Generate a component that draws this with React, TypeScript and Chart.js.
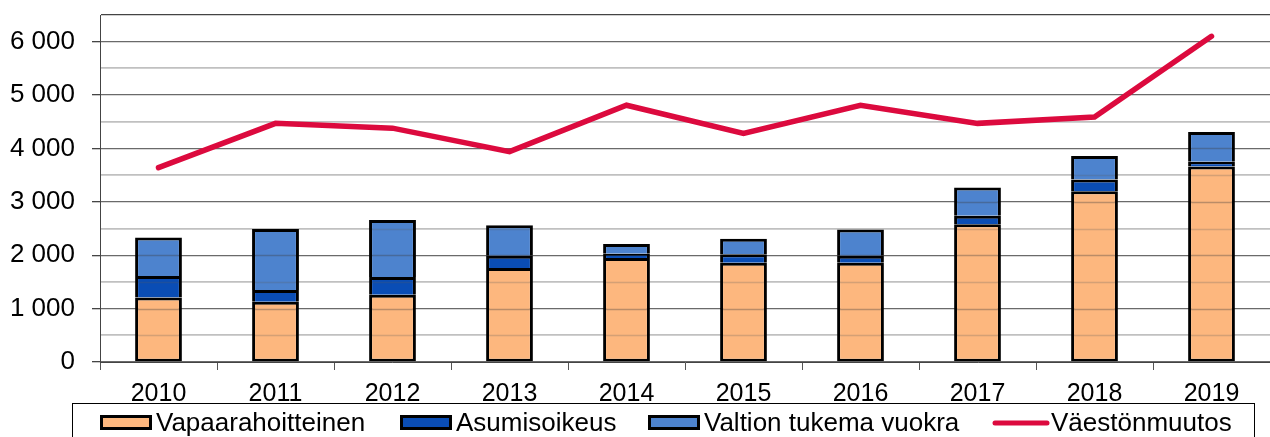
import React, { useEffect, useRef } from 'react';
import { Chart, registerables } from 'chart.js';

Chart.register(...registerables);

const years = ['2010', '2011', '2012', '2013', '2014', '2015', '2016', '2017', '2018', '2019'];
const vapaarahoitteinen = [1210, 1130, 1260, 1760, 1950, 1860, 1860, 2580, 3200, 3660];
const asumisoikeus = [400, 220, 330, 230, 80, 160, 130, 160, 220, 90];
const valtionTukemaVuokra = [720, 1140, 1070, 570, 180, 290, 490, 530, 440, 560];
const vaestonmuutos = [3640, 4470, 4380, 3940, 4810, 4280, 4810, 4470, 4590, 6100];

const seriesLabels = ['Vapaarahoitteinen', 'Asumisoikeus', 'Valtion tukema vuokra', 'Väestönmuutos'];
const yTickLabels: Record<number, string> = { 0: '0', 1000: '1 000', 2000: '2 000', 3000: '3 000', 4000: '4 000', 5000: '5 000', 6000: '6 000' };

const FONT = '"Liberation Sans", Arial, sans-serif';
const ORANGE = '#FDB77E';
const DARK_BLUE = '#0A4DB5';
const LIGHT_BLUE = '#4D83CE';
const RED = '#DC0A3E';

// faint gridlines showing through the bars, as in the reference
const gridThroughBars = {
  id: 'gridThroughBars',
  afterDatasetsDraw(chart: any) {
    const ctx = chart.ctx;
    const y = chart.scales.y;
    ctx.save();
    ctx.beginPath();
    chart.data.datasets.forEach((d: any, i: number) => {
      if (d.type !== 'bar') return;
      const meta = chart.getDatasetMeta(i);
      meta.data.forEach((el: any) => {
        const p = el.getProps(['x', 'y', 'base', 'width'], true);
        const top = Math.min(p.y, p.base);
        const h = Math.abs(p.base - p.y);
        ctx.rect(p.x - p.width / 2 + 3, top + 3, p.width - 6, Math.max(h - 3, 0));
      });
    });
    ctx.clip();
    for (let v = 500; v < 6500; v += 500) {
      const py = Math.round(y.getPixelForValue(v)) + 0.5;
      ctx.strokeStyle = v % 1000 === 0 ? 'rgba(60,60,60,0.35)' : 'rgba(90,90,90,0.25)';
      ctx.lineWidth = 1.3;
      ctx.beginPath();
      ctx.moveTo(chart.chartArea.left, py);
      ctx.lineTo(chart.chartArea.right, py);
      ctx.stroke();
    }
    ctx.restore();
  },
};

const legendPlugin = {
  id: 'boxLegend',
  afterDraw(chart: any) {
    const ctx = chart.ctx;
    const ds = chart.data.datasets;
    ctx.save();
    ctx.strokeStyle = '#000';
    ctx.lineWidth = 1;
    ctx.strokeRect(72.5, 403.5, 1182, 40);
    const swatchX = [100, 400, 648, 993];
    ctx.font = `26px ${FONT}`;
    ctx.textBaseline = 'alphabetic';
    ctx.fillStyle = '#000';
    for (let i = 0; i < ds.length; i++) {
      const x = swatchX[i];
      if (ds[i].type === 'line') {
        ctx.strokeStyle = ds[i].borderColor;
        ctx.lineWidth = 5;
        ctx.lineCap = 'round';
        ctx.beginPath();
        ctx.moveTo(x + 2, 423);
        ctx.lineTo(x + 54, 423);
        ctx.stroke();
        ctx.fillStyle = '#000';
        ctx.fillText(ds[i].label, x + 58, 431);
      } else {
        ctx.fillStyle = ds[i].backgroundColor;
        ctx.fillRect(x, 415, 52, 15);
        ctx.strokeStyle = '#000';
        ctx.lineWidth = 3;
        ctx.strokeRect(x + 1.5, 416.5, 49, 12);
        ctx.fillStyle = '#000';
        ctx.fillText(ds[i].label, x + 56, 431);
      }
    }
    ctx.restore();
  },
};

export default function App() {
  const ref = useRef<HTMLCanvasElement | null>(null);

  useEffect(() => {
    document.body.style.margin = '0';
    const canvas = ref.current;
    if (!canvas) return;
    const barBorderBottom = { top: 3, bottom: 2.5, left: 3, right: 3 };
    const barBorder = { top: 3, bottom: 0, left: 3, right: 3 };
    const chart = new Chart(canvas, {
      type: 'bar',
      data: {
        labels: years,
        datasets: [
          {
            type: 'bar',
            label: seriesLabels[0],
            data: vapaarahoitteinen,
            backgroundColor: ORANGE,
            borderColor: '#000',
            borderWidth: barBorderBottom,
            borderSkipped: false,
            order: 1,
          },
          {
            type: 'bar',
            label: seriesLabels[1],
            data: asumisoikeus,
            backgroundColor: DARK_BLUE,
            borderColor: '#000',
            borderWidth: barBorder,
            borderSkipped: false,
            order: 1,
          },
          {
            type: 'bar',
            label: seriesLabels[2],
            data: valtionTukemaVuokra,
            backgroundColor: LIGHT_BLUE,
            borderColor: '#000',
            borderWidth: barBorder,
            borderSkipped: false,
            order: 1,
          },
          {
            type: 'line',
            label: seriesLabels[3],
            data: vaestonmuutos,
            borderColor: RED,
            backgroundColor: RED,
            borderWidth: 5.5,
            pointRadius: 0,
            borderCapStyle: 'round',
            borderJoinStyle: 'miter',
            tension: 0,
            stack: 'line',
            order: 0,
          } as any,
        ],
      },
      options: {
        responsive: false,
        animation: false,
        maintainAspectRatio: false,
        layout: { padding: { top: 15, right: 0, left: 0, bottom: 0 } },
        datasets: { bar: { categoryPercentage: 1, barPercentage: 0.4 } },
        plugins: {
          legend: { display: false },
          tooltip: { enabled: false },
        },
        scales: {
          x: {
            stacked: true,
            offset: true,
            grid: {
              offset: true,
              drawOnChartArea: false,
              drawTicks: true,
              tickLength: 8,
              color: '#555',
              lineWidth: 1,
            },
            border: { color: '#444', width: 1 },
            ticks: { color: '#000', font: { family: FONT, size: 25 }, padding: 9, maxRotation: 0, autoSkip: false },
            afterFit: (s: any) => {
              s.height = 75;
              s.paddingLeft = 0;
              s.paddingRight = 0;
            },
          },
          y: {
            stacked: true,
            min: 0,
            max: 6500,
            afterBuildTicks: (s: any) => {
              const t = [];
              for (let v = 0; v <= 6500; v += 500) t.push({ value: v });
              s.ticks = t;
            },
            grid: {
              color: (c: any) => {
                const v = c.tick ? c.tick.value : 0;
                if (v === 6500) return '#444';
                return v % 1000 === 0 ? '#6a6a6a' : '#c0c0c0';
              },
              lineWidth: (c: any) => {
                const v = c.tick ? c.tick.value : 0;
                return v % 1000 === 0 || v === 6500 ? 1.3 : 1.8;
              },
              tickColor: (c: any) => {
                const v = c.tick ? c.tick.value : 0;
                return v % 1000 === 0 ? '#444' : 'rgba(0,0,0,0)';
              },
              tickLength: 8,
            },
            border: { color: '#444', width: 1 },
            ticks: {
              color: '#000',
              font: { family: FONT, size: 26 },
              padding: 17,
              autoSkip: false,
              callback: (v: any) => (yTickLabels[v] !== undefined ? yTickLabels[v] : ''),
            },
            afterFit: (s: any) => {
              s.width = 100;
              s.paddingTop = 0;
              s.paddingBottom = 0;
            },
          },
        },
      },
      plugins: [gridThroughBars, legendPlugin],
    });
    return () => chart.destroy();
  }, []);

  return (
    <div style={{ width: 1270, height: 437 }}>
      <canvas ref={ref} width={1270} height={437} style={{ display: 'block', width: 1270, height: 437 }} />
    </div>
  );
}
